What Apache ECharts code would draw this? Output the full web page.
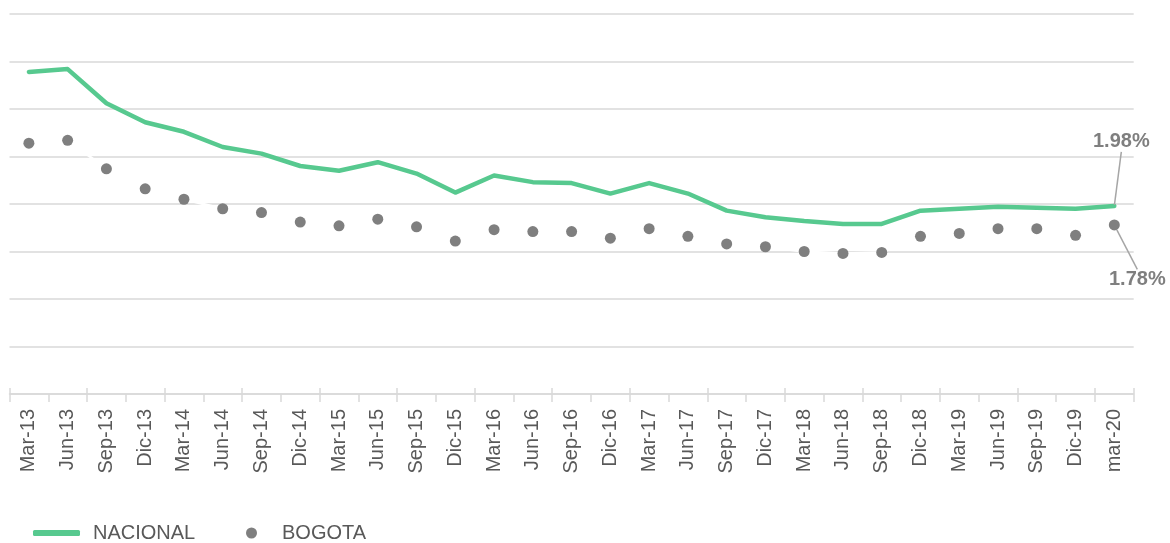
<!DOCTYPE html>
<html>
<head>
<meta charset="utf-8">
<script src="https://cdn.jsdelivr.net/npm/echarts@6/dist/echarts.min.js"></script>
<style>html,body{margin:0;padding:0;background:#fff}#chart{width:1170px;height:543px}</style>
</head>
<body>
<div id="chart"></div>
<script>
const categories = ['Mar-13','Jun-13','Sep-13','Dic-13','Mar-14','Jun-14','Sep-14','Dic-14','Mar-15','Jun-15','Sep-15','Dic-15','Mar-16','Jun-16','Sep-16','Dic-16','Mar-17','Jun-17','Sep-17','Dic-17','Mar-18','Jun-18','Sep-18','Dic-18','Mar-19','Jun-19','Sep-19','Dic-19','mar-20'];
const nacional = [3.39,3.42,3.06,2.86,2.76,2.60,2.53,2.40,2.35,2.44,2.32,2.12,2.30,2.23,2.22,2.11,2.22,2.11,1.93,1.86,1.82,1.79,1.79,1.93,1.95,1.97,1.96,1.95,1.98];
const bogota = [2.64,2.67,2.37,2.16,2.05,1.95,1.91,1.81,1.77,1.84,1.76,1.61,1.73,1.71,1.71,1.64,1.74,1.66,1.58,1.55,1.50,1.48,1.49,1.66,1.69,1.74,1.74,1.67,1.78];

const FONT = 'Liberation Sans';
const GREEN = '#57c98f';
const GRAY = '#7f7f7f';
const lastIdx = categories.length - 1;

function withEndLabel(values, pos) {
  return values.map((v, i) => i === lastIdx ? {
    value: v,
    label: { show: true, position: pos, formatter: p => p.value.toFixed(2) + '%',
      fontFamily: FONT, fontSize: 20, fontWeight: 'bold', color: GRAY },
    labelLine: { show: true, lineStyle: { color: '#a6a6a6', width: 1.5 } }
  } : v);
}

const chart = echarts.init(document.getElementById('chart'), null, { renderer: 'canvas' });
chart.setOption({
  animation: false,
  backgroundColor: '#fff',
  grid: { left: 9.5, right: 36.3, top: 14, bottom: 149, containLabel: false, outerBoundsMode: 'none' },
  xAxis: [{
    type: 'category', data: categories, boundaryGap: true, position: 'bottom',
    axisLine: { onZero: false, lineStyle: { color: '#d9d9d9', width: 1.5 } },
    axisTick: { show: true, length: 8, lineStyle: { color: '#d9d9d9', width: 1.5 } },
    axisLabel: { rotate: 90, margin: 15, fontFamily: FONT, fontSize: 20, color: '#595959', interval: 0 },
    splitLine: { show: false }
  }, {
    type: 'category', data: categories, boundaryGap: true, position: 'bottom',
    axisLine: { show: false, onZero: false },
    axisTick: { show: true, inside: true, length: 6, lineStyle: { color: '#d9d9d9', width: 1.5 } },
    axisLabel: { show: false }, splitLine: { show: false }
  }],
  yAxis: {
    type: 'value', min: 0, max: 4, interval: 0.5,
    axisLine: { show: false }, axisTick: { show: false }, axisLabel: { show: false },
    splitLine: { show: true, lineStyle: { color: '#d9d9d9', width: 1.5 } }
  },
  legend: [{
    data: [{ name: 'NACIONAL', icon: 'roundRect' }],
    left: 33, top: 523, padding: 0, itemWidth: 47, itemHeight: 6, itemStyle: { color: GREEN },
    textStyle: { fontFamily: FONT, fontSize: 20, color: '#595959', padding: [0, 0, 0, 8] }
  }, {
    data: [{ name: 'BOGOTA', icon: 'circle' }],
    left: 246, top: 523, padding: 0, itemWidth: 11, itemHeight: 11, itemStyle: { color: GRAY, borderWidth: 0 },
    textStyle: { fontFamily: FONT, fontSize: 20, color: '#595959', padding: [0, 0, 0, 20] }
  }],
  series: [{
    name: 'NACIONAL', type: 'line', data: withEndLabel(nacional, 'top'),
    showSymbol: true, symbol: 'circle', symbolSize: 2, smooth: false,
    lineStyle: { color: GREEN, width: 4.5, cap: 'round', join: 'round' },
    itemStyle: { color: GREEN },
    labelLayout: p => p.dataIndex === lastIdx ? { dx: 7, dy: -48 } : {},
    z: 3
  }, {
    name: 'BOGOTA', type: 'line', data: withEndLabel(bogota, 'bottom'),
    symbol: 'circle', symbolSize: 11, showSymbol: true,
    lineStyle: { color: '#ffffff', width: 2.5 },
    itemStyle: { color: GRAY, borderWidth: 0 },
    labelLayout: p => p.dataIndex === lastIdx ? { dx: 23, dy: 34 } : {},
    z: 2
  }]
});
</script>
</body>
</html>
